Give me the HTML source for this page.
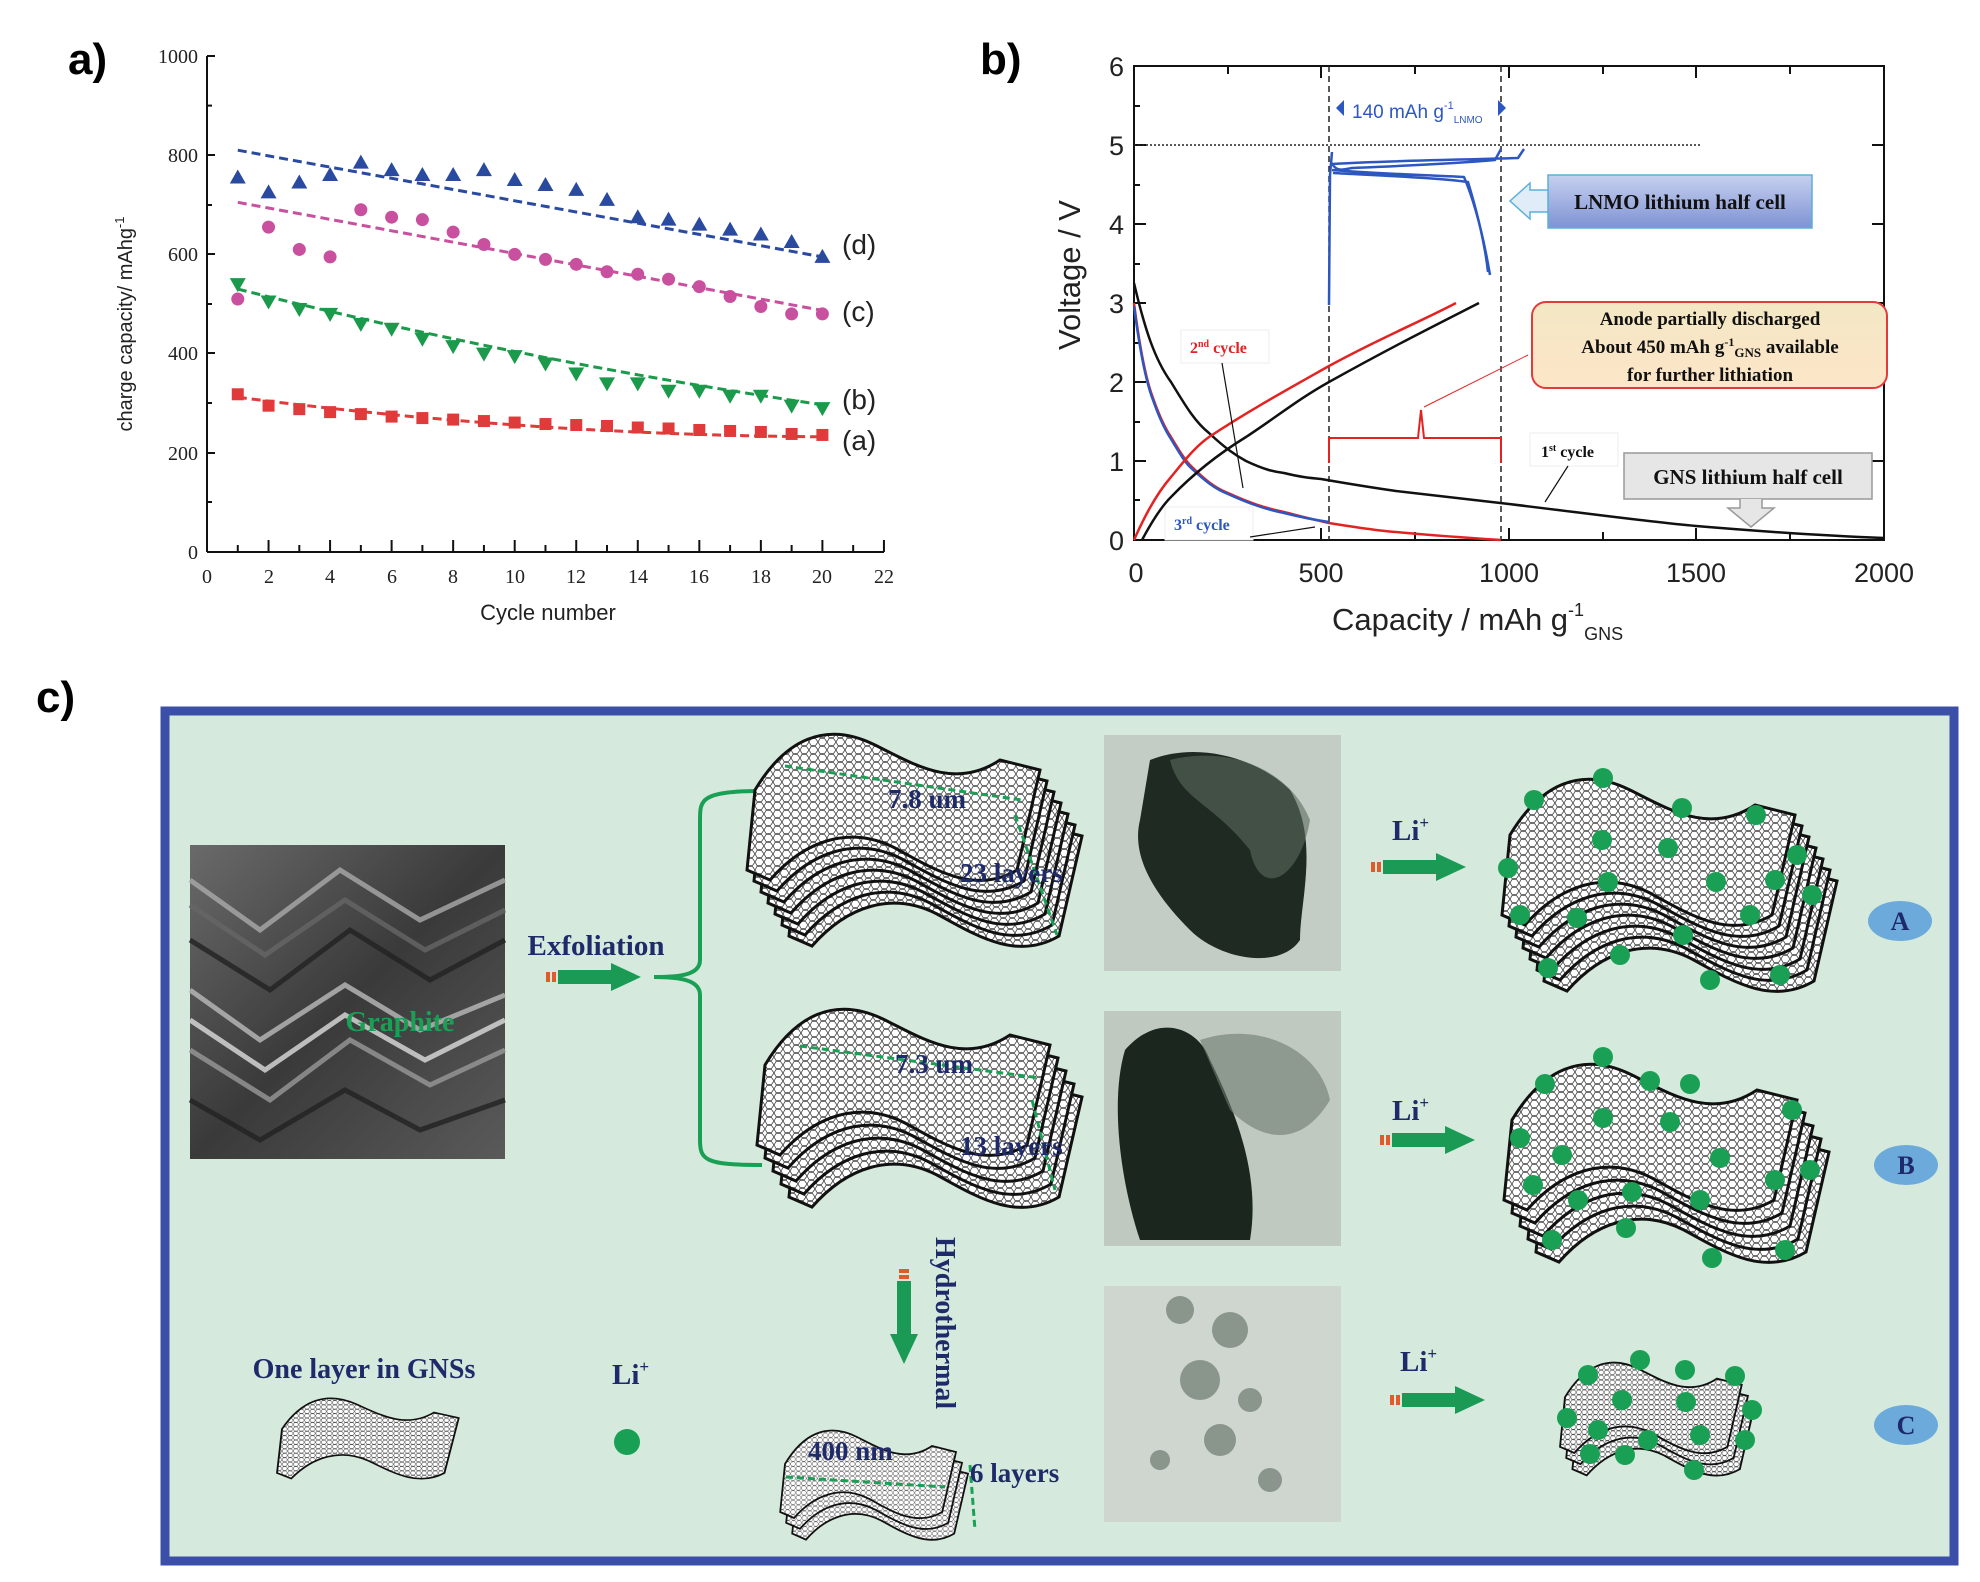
<!DOCTYPE html>
<html><head><meta charset="utf-8"><style>
html,body{margin:0;padding:0;background:#fff;}
svg{display:block}
.sf{font-family:"Liberation Serif",serif;}
.ss{font-family:"Liberation Sans",sans-serif;}
</style></head><body>
<svg width="1980" height="1582" viewBox="0 0 1980 1582" xmlns="http://www.w3.org/2000/svg">
<defs>
<pattern id="hex" width="9" height="8" patternUnits="userSpaceOnUse">
<rect width="9" height="8" fill="#fff"/>
<path d="M0,4 L2,0.5 L6.5,0.5 L9,4 L6.5,7.5 L2,7.5 Z" fill="none" stroke="#444" stroke-width="0.8"/>
</pattern>
<path id="sheet" d="M0,60 C30,10 70,-10 120,15 C160,35 200,60 245,30 L285,40 L262,140 C220,165 180,140 140,118 C95,95 50,110 15,150 L-8,140 Z" fill="url(#hex)" stroke="#111" stroke-width="3"/>
<linearGradient id="lnmo" x1="0" y1="0" x2="0" y2="1"><stop offset="0" stop-color="#c6d0ef"/><stop offset="1" stop-color="#7f93d4"/></linearGradient>
<linearGradient id="anode" x1="0" y1="0" x2="0" y2="1"><stop offset="0" stop-color="#f3e7c4"/><stop offset="1" stop-color="#fde6c8"/></linearGradient>
<linearGradient id="gr" x1="0" y1="0" x2="1" y2="1"><stop offset="0" stop-color="#6a6a6a"/><stop offset="0.5" stop-color="#3a3a3a"/><stop offset="1" stop-color="#5a5a5a"/></linearGradient>
<g id="garr"><rect x="0" y="-5" width="4" height="10" fill="#e05a2a"/><rect x="6" y="-5" width="4" height="10" fill="#e05a2a"/><rect x="12" y="-7" width="55" height="14" fill="#1a9a55"/><path d="M65,-14 L95,0 L65,14 Z" fill="#1a9a55"/></g>
</defs>

<!-- Panel a -->
<text x="68" y="74" font-family="Liberation Sans,sans-serif" font-weight="bold" font-size="44">a)</text>
<g class="sf" font-size="20" fill="#222">
<line x1="207" y1="56" x2="207" y2="552" stroke="#111" stroke-width="2"/>
<line x1="207" y1="552" x2="884" y2="552" stroke="#111" stroke-width="2"/>
<g stroke="#111" stroke-width="2">
<line x1="207" y1="56" x2="215" y2="56"/><line x1="207" y1="105.6" x2="212" y2="105.6"/><line x1="207" y1="155" x2="215" y2="155"/><line x1="207" y1="205" x2="212" y2="205"/><line x1="207" y1="254" x2="215" y2="254"/><line x1="207" y1="304" x2="212" y2="304"/><line x1="207" y1="353" x2="215" y2="353"/><line x1="207" y1="403" x2="212" y2="403"/><line x1="207" y1="453" x2="215" y2="453"/><line x1="207" y1="502" x2="212" y2="502"/>
</g>
<g text-anchor="end"><text x="198" y="63">1000</text><text x="198" y="162">800</text><text x="198" y="261">600</text><text x="198" y="360">400</text><text x="198" y="460">200</text><text x="198" y="559">0</text></g>
<g id="xt" stroke="#111" stroke-width="2"></g>
<g text-anchor="middle"><text x="207" y="583">0</text><text x="269" y="583">2</text><text x="330" y="583">4</text><text x="392" y="583">6</text><text x="453" y="583">8</text><text x="515" y="583">10</text><text x="576" y="583">12</text><text x="638" y="583">14</text><text x="699" y="583">16</text><text x="761" y="583">18</text><text x="822" y="583">20</text><text x="884" y="583">22</text></g>
</g>
<text class="ss" x="548" y="620" font-size="22" text-anchor="middle" fill="#222">Cycle number</text>
<text class="ss" font-size="20" fill="#222" text-anchor="middle" transform="translate(132,324) rotate(-90)">charge capacity/ mAhg<tspan dy="-8" font-size="13">-1</tspan></text>
<g id="pa"></g>
<g class="ss" font-size="28" fill="#222"><text x="842" y="254">(d)</text><text x="842" y="321">(c)</text><text x="842" y="409">(b)</text><text x="842" y="450">(a)</text></g>

<!-- Panel b -->
<text x="980" y="74" font-family="Liberation Sans,sans-serif" font-weight="bold" font-size="44">b)</text>
<rect x="1134" y="66" width="750" height="474" fill="none" stroke="#111" stroke-width="2"/>
<g stroke="#111" stroke-width="2">
<line x1="1228" y1="540" x2="1228" y2="532"/><line x1="1321" y1="540" x2="1321" y2="528"/><line x1="1415" y1="540" x2="1415" y2="532"/><line x1="1509" y1="540" x2="1509" y2="528"/><line x1="1603" y1="540" x2="1603" y2="532"/><line x1="1696" y1="540" x2="1696" y2="528"/><line x1="1790" y1="540" x2="1790" y2="532"/>
<line x1="1228" y1="66" x2="1228" y2="74"/><line x1="1321" y1="66" x2="1321" y2="78"/><line x1="1415" y1="66" x2="1415" y2="74"/><line x1="1509" y1="66" x2="1509" y2="78"/><line x1="1603" y1="66" x2="1603" y2="74"/><line x1="1696" y1="66" x2="1696" y2="78"/><line x1="1790" y1="66" x2="1790" y2="74"/>
<line x1="1134" y1="461" x2="1146" y2="461"/><line x1="1134" y1="382" x2="1146" y2="382"/><line x1="1134" y1="303" x2="1146" y2="303"/><line x1="1134" y1="224" x2="1146" y2="224"/><line x1="1134" y1="145" x2="1146" y2="145"/>
<line x1="1884" y1="461" x2="1872" y2="461"/><line x1="1884" y1="382" x2="1872" y2="382"/><line x1="1884" y1="303" x2="1872" y2="303"/><line x1="1884" y1="224" x2="1872" y2="224"/><line x1="1884" y1="145" x2="1872" y2="145"/>
<line x1="1134" y1="500" x2="1140" y2="500"/><line x1="1134" y1="422" x2="1140" y2="422"/><line x1="1134" y1="343" x2="1140" y2="343"/><line x1="1134" y1="264" x2="1140" y2="264"/><line x1="1134" y1="185" x2="1140" y2="185"/><line x1="1134" y1="106" x2="1140" y2="106"/>
</g>
<g class="ss" font-size="27" fill="#222" text-anchor="end"><text x="1124" y="550">0</text><text x="1124" y="471">1</text><text x="1124" y="392">2</text><text x="1124" y="313">3</text><text x="1124" y="234">4</text><text x="1124" y="155">5</text><text x="1124" y="76">6</text></g>
<g class="ss" font-size="27" fill="#222" text-anchor="middle"><text x="1136" y="582">0</text><text x="1321" y="582">500</text><text x="1509" y="582">1000</text><text x="1696" y="582">1500</text><text x="1884" y="582">2000</text></g>
<text class="ss" x="1332" y="630" font-size="31" fill="#222">Capacity / mAh g<tspan dy="-14" font-size="18">-1</tspan><tspan dy="24" font-size="18">GNS</tspan></text>
<text class="ss" font-size="31" fill="#222" text-anchor="middle" transform="translate(1080,275) rotate(-90)">Voltage / V</text>
<line x1="1134" y1="145" x2="1700" y2="145" stroke="#222" stroke-width="1.5" stroke-dasharray="2,2"/>
<line x1="1329" y1="66" x2="1329" y2="540" stroke="#222" stroke-width="1.5" stroke-dasharray="6,4"/>
<line x1="1501" y1="66" x2="1501" y2="540" stroke="#222" stroke-width="1.5" stroke-dasharray="6,4"/>
<path d="M1336,108 L1344,100 L1344,116 Z M1506,108 L1498,100 L1498,116 Z" fill="#2d57c0"/>
<text class="ss" x="1352" y="118" font-size="19" fill="#2d57c0">140 mAh g<tspan dy="-9" font-size="11">-1</tspan><tspan dy="14" font-size="10">LNMO</tspan></text>
<g fill="none" stroke-width="2.5" stroke-linejoin="round">
<path d="M1134,283 C1145,330 1155,360 1171,382 C1185,405 1195,422 1209,433 C1225,448 1235,455 1246,461 C1265,470 1275,472 1284,473 C1300,477 1310,478 1321,479 C1350,484 1375,488 1396,491 C1450,497 1480,501 1509,504 C1600,515 1650,522 1696,526 C1780,533 1830,536 1884,538" stroke="#111"/>
<path d="M1134,303 C1140,350 1146,380 1153,398 C1160,418 1165,428 1171,437 C1180,452 1185,460 1190,465 C1205,480 1215,488 1228,493 C1250,503 1265,508 1284,512 C1300,516 1315,520 1329,523 C1360,528 1380,531 1396,532 C1440,536 1470,538 1501,540" stroke="#e52222"/>
<path d="M1134,306 C1140,352 1146,382 1153,400 C1160,420 1165,430 1171,439 C1180,454 1185,462 1190,467 C1205,481 1215,489 1228,494 C1250,504 1265,509 1284,513 C1300,517 1315,520 1329,522" stroke="#2d57c0"/>
<path d="M1134,540 C1145,515 1158,492 1171,477 C1185,460 1195,447 1209,437 C1250,410 1290,388 1329,366 C1380,338 1420,322 1456,303" stroke="#e52222"/>
<path d="M1142,540 C1150,525 1160,508 1171,497 C1195,472 1220,453 1246,437 C1275,418 1300,398 1329,382 C1390,348 1430,328 1479,303" stroke="#111"/>
<path d="M1329,305 L1330,175 L1332,152 M1331,162 C1336,172 1342,170 1352,168 C1400,166 1450,164 1495,160 L1501,149 M1333,164 C1380,161 1450,160 1518,158 L1524,149 M1332,170 C1380,174 1430,175 1464,177 C1476,205 1484,240 1490,275 M1333,173 C1390,176 1440,178 1468,182 C1478,215 1485,245 1488,272" stroke="#2d57c0"/>
</g>
<rect x="1548" y="175" width="264" height="53" fill="url(#lnmo)" stroke="#5bb0d8" stroke-width="1.5"/>
<path d="M1548,190 L1530,190 L1530,183 L1510,201 L1530,219 L1530,212 L1548,212 Z" fill="#e0ecf8" stroke="#5bb0d8" stroke-width="1.5"/>
<text class="sf" x="1680" y="209" font-size="21" font-weight="bold" text-anchor="middle" fill="#111">LNMO lithium half cell</text>
<rect x="1532" y="302" width="355" height="86" rx="14" fill="url(#anode)" stroke="#e53a3a" stroke-width="2"/>
<g class="sf" font-size="19" font-weight="bold" text-anchor="middle" fill="#111"><text x="1710" y="325">Anode partially discharged</text><text x="1710" y="353">About 450 mAh g<tspan dy="-7" font-size="12">-1</tspan><tspan dy="11" font-size="13">GNS</tspan><tspan dy="-4"> available</tspan></text><text x="1710" y="381">for further lithiation</text></g>
<line x1="1528" y1="355" x2="1424" y2="407" stroke="#e52222" stroke-width="1"/>
<path d="M1329,463 L1329,438 L1418,438 L1421,410 L1424,438 L1501,438 L1501,463" fill="none" stroke="#e52222" stroke-width="2"/>
<rect x="1624" y="453" width="248" height="46" fill="#e6e6e6" stroke="#999" stroke-width="1.5"/>
<path d="M1740,499 L1740,508 L1728,508 L1751,527 L1774,508 L1762,508 L1762,499" fill="#e6e6e6" stroke="#999" stroke-width="1.5"/>
<text class="sf" x="1748" y="484" font-size="21" font-weight="bold" text-anchor="middle" fill="#111">GNS lithium half cell</text>
<rect x="1530" y="433" width="88" height="33" fill="#fff" stroke="#eee"/>
<text class="sf" x="1541" y="457" font-size="16" font-weight="bold" fill="#111">1<tspan dy="-6" font-size="10">st</tspan><tspan dy="6"> cycle</tspan></text>
<line x1="1568" y1="466" x2="1545" y2="502" stroke="#111" stroke-width="1.2"/>
<rect x="1181" y="330" width="88" height="33" fill="#fff" stroke="#eee"/>
<text class="sf" x="1190" y="353" font-size="16" font-weight="bold" fill="#e52222">2<tspan dy="-6" font-size="10">nd</tspan><tspan dy="6"> cycle</tspan></text>
<line x1="1222" y1="363" x2="1243" y2="488" stroke="#111" stroke-width="1.2"/>
<rect x="1165" y="507" width="88" height="33" fill="#fff" stroke="#eee"/>
<text class="sf" x="1174" y="530" font-size="16" font-weight="bold" fill="#2d57c0">3<tspan dy="-6" font-size="10">rd</tspan><tspan dy="6"> cycle</tspan></text>
<line x1="1250" y1="537" x2="1315" y2="527" stroke="#111" stroke-width="1.2"/>

<!-- Panel c -->
<text x="36" y="712" font-family="Liberation Sans,sans-serif" font-weight="bold" font-size="44">c)</text>
<rect x="165" y="711" width="1789" height="850" fill="#d5eadc" stroke="#3b4fa8" stroke-width="9"/>
<rect x="190" y="845" width="315" height="314" fill="url(#gr)"/>
<g fill="none" stroke-width="5" opacity="0.8">
<path d="M190,880 L260,930 L340,870 L420,920 L505,880" stroke="#aaa"/>
<path d="M190,940 L270,990 L350,930 L430,980 L505,940" stroke="#222"/>
<path d="M190,990 L260,1040 L345,985 L420,1030 L505,995" stroke="#bbb"/>
<path d="M190,1050 L270,1100 L350,1040 L430,1085 L505,1050" stroke="#999"/>
<path d="M190,1100 L260,1140 L345,1090 L420,1130 L505,1100" stroke="#222"/>
<path d="M190,905 L265,955 L345,900 L425,950 L505,910" stroke="#666"/>
<path d="M190,1020 L265,1070 L345,1015 L425,1060 L505,1020" stroke="#ddd"/>
</g>
<text class="sf" x="400" y="1031" font-size="28" font-weight="bold" fill="#1aa055" text-anchor="middle">Graphite</text>
<text class="sf" x="596" y="955" font-size="29" font-weight="bold" fill="#1e2a6a" text-anchor="middle">Exfoliation</text>
<use href="#garr" x="546" y="977"/>
<path d="M762,791 C700,791 700,800 700,820 L700,960 C700,975 680,977 654,977 C680,977 700,980 700,995 L700,1140 C700,1160 705,1165 762,1165" fill="none" stroke="#1aa055" stroke-width="4"/>
<g transform="translate(755,730)"><use href="#sheet" x="42" y="66"/><use href="#sheet" x="35" y="55"/><use href="#sheet" x="28" y="44"/><use href="#sheet" x="21" y="33"/><use href="#sheet" x="14" y="22"/><use href="#sheet" x="7" y="11"/><use href="#sheet" x="0" y="0"/></g>
<g transform="translate(765,1005)"><use href="#sheet" x="32" y="52"/><use href="#sheet" x="24" y="39"/><use href="#sheet" x="16" y="26"/><use href="#sheet" x="8" y="13"/><use href="#sheet" x="0" y="0"/></g>
<g transform="translate(785,1428) scale(0.6)"><use href="#sheet" x="20" y="36"/><use href="#sheet" x="10" y="18"/><use href="#sheet" x="0" y="0"/></g>
<g stroke="#1aa055" stroke-width="3" stroke-dasharray="7,4" fill="none">
<line x1="785" y1="766" x2="1022" y2="800"/><line x1="1015" y1="815" x2="1057" y2="935"/>
<line x1="800" y1="1046" x2="1040" y2="1078"/><line x1="1032" y1="1100" x2="1055" y2="1190"/>
<line x1="786" y1="1477" x2="945" y2="1487"/><line x1="970" y1="1465" x2="975" y2="1530"/>
</g>
<g class="sf" font-size="27" font-weight="bold" fill="#1e2a6a">
<text x="888" y="808">7.8 um</text><text x="960" y="882">23 layers</text>
<text x="895" y="1073">7.3 um</text><text x="960" y="1155">13 layers</text>
<text x="808" y="1460">400 nm</text><text x="970" y="1482">6 layers</text>
</g>
<rect x="1104" y="735" width="237" height="236" fill="#c4cdc5"/>
<path d="M1150,760 C1200,740 1260,760 1290,790 C1320,840 1300,900 1300,940 C1280,970 1220,960 1190,930 C1160,900 1130,860 1140,820 Z" fill="#1e2a22"/>
<path d="M1170,760 C1230,745 1290,770 1310,820 C1300,880 1260,900 1250,850 C1210,800 1180,800 1170,760Z" fill="#5a6a5e" opacity="0.6"/>
<rect x="1104" y="1011" width="237" height="235" fill="#bfc9c0"/>
<path d="M1125,1050 C1160,1010 1200,1030 1210,1060 C1240,1120 1260,1180 1250,1240 L1140,1240 C1120,1180 1110,1100 1125,1050Z" fill="#1a261e"/>
<path d="M1200,1040 C1260,1020 1320,1050 1330,1100 C1300,1150 1260,1140 1230,1110Z" fill="#6e7c70" opacity="0.6"/>
<rect x="1104" y="1286" width="237" height="236" fill="#cfd6d0"/>
<g fill="#7a857c" opacity="0.8"><circle cx="1180" cy="1310" r="14"/><circle cx="1230" cy="1330" r="18"/><circle cx="1200" cy="1380" r="20"/><circle cx="1250" cy="1400" r="12"/><circle cx="1220" cy="1440" r="16"/><circle cx="1270" cy="1480" r="12"/><circle cx="1160" cy="1460" r="10"/></g>
<g class="sf" font-size="29" font-weight="bold" fill="#1e2a6a">
<text x="1392" y="840">Li<tspan dy="-12" font-size="17">+</tspan></text>
<text x="1392" y="1120">Li<tspan dy="-12" font-size="17">+</tspan></text>
<text x="1400" y="1371">Li<tspan dy="-12" font-size="17">+</tspan></text>
</g>
<use href="#garr" x="1371" y="867"/><use href="#garr" x="1380" y="1140"/><use href="#garr" x="1390" y="1400"/>
<g transform="translate(1510,775)"><use href="#sheet" x="42" y="66"/><use href="#sheet" x="35" y="55"/><use href="#sheet" x="28" y="44"/><use href="#sheet" x="21" y="33"/><use href="#sheet" x="14" y="22"/><use href="#sheet" x="7" y="11"/><use href="#sheet" x="0" y="0"/></g>
<g transform="translate(1512,1060)"><use href="#sheet" x="32" y="52"/><use href="#sheet" x="24" y="39"/><use href="#sheet" x="16" y="26"/><use href="#sheet" x="8" y="13"/><use href="#sheet" x="0" y="0"/></g>
<g transform="translate(1565,1360) scale(0.62)"><use href="#sheet" x="20" y="36"/><use href="#sheet" x="10" y="18"/><use href="#sheet" x="0" y="0"/></g>
<g fill="#1aa055">
<circle cx="1534" cy="800" r="10"/><circle cx="1603" cy="778" r="10"/><circle cx="1682" cy="808" r="10"/><circle cx="1756" cy="815" r="10"/><circle cx="1602" cy="840" r="10"/><circle cx="1668" cy="848" r="10"/><circle cx="1508" cy="868" r="10"/><circle cx="1608" cy="882" r="10"/><circle cx="1716" cy="882" r="10"/><circle cx="1797" cy="855" r="10"/><circle cx="1520" cy="915" r="10"/><circle cx="1577" cy="918" r="10"/><circle cx="1683" cy="935" r="10"/><circle cx="1750" cy="915" r="10"/><circle cx="1812" cy="895" r="10"/><circle cx="1548" cy="968" r="10"/><circle cx="1620" cy="955" r="10"/><circle cx="1710" cy="980" r="10"/><circle cx="1780" cy="975" r="10"/><circle cx="1775" cy="880" r="10"/>
<circle cx="1545" cy="1084" r="10"/><circle cx="1603" cy="1057" r="10"/><circle cx="1650" cy="1081" r="10"/><circle cx="1690" cy="1084" r="10"/><circle cx="1792" cy="1110" r="10"/><circle cx="1603" cy="1118" r="10"/><circle cx="1670" cy="1122" r="10"/><circle cx="1520" cy="1138" r="10"/><circle cx="1562" cy="1155" r="10"/><circle cx="1720" cy="1158" r="10"/><circle cx="1533" cy="1185" r="10"/><circle cx="1578" cy="1200" r="10"/><circle cx="1632" cy="1192" r="10"/><circle cx="1700" cy="1200" r="10"/><circle cx="1775" cy="1180" r="10"/><circle cx="1810" cy="1170" r="10"/><circle cx="1552" cy="1240" r="10"/><circle cx="1626" cy="1228" r="10"/><circle cx="1712" cy="1258" r="10"/><circle cx="1785" cy="1250" r="10"/>
<circle cx="1588" cy="1375" r="10"/><circle cx="1640" cy="1360" r="10"/><circle cx="1685" cy="1370" r="10"/><circle cx="1735" cy="1376" r="10"/><circle cx="1622" cy="1400" r="10"/><circle cx="1686" cy="1402" r="10"/><circle cx="1752" cy="1410" r="10"/><circle cx="1567" cy="1418" r="10"/><circle cx="1598" cy="1430" r="10"/><circle cx="1648" cy="1440" r="10"/><circle cx="1700" cy="1435" r="10"/><circle cx="1745" cy="1440" r="10"/><circle cx="1590" cy="1454" r="10"/><circle cx="1625" cy="1455" r="10"/><circle cx="1694" cy="1470" r="10"/>
</g>
<g class="sf" font-size="26" font-weight="bold" fill="#1e2a6a" text-anchor="middle">
<ellipse cx="1900" cy="921" rx="32" ry="20" fill="#6baadb"/><text x="1900" y="930">A</text>
<ellipse cx="1906" cy="1165" rx="32" ry="20" fill="#6baadb"/><text x="1906" y="1174">B</text>
<ellipse cx="1906" cy="1425" rx="32" ry="20" fill="#6baadb"/><text x="1906" y="1434">C</text>
</g>
<text class="sf" x="364" y="1378" font-size="28" font-weight="bold" fill="#1e2a6a" text-anchor="middle">One layer in GNSs</text>
<text class="sf" x="612" y="1384" font-size="29" font-weight="bold" fill="#1e2a6a">Li<tspan dy="-12" font-size="17">+</tspan></text>
<circle cx="627" cy="1442" r="13" fill="#1aa055"/>
<g transform="translate(282,1396) scale(0.62,0.55)"><use href="#sheet" x="0" y="0"/></g>
<text class="sf" font-size="28" font-weight="bold" fill="#1e2a6a" transform="translate(936,1237) rotate(90)">Hydrothermal</text>
<g transform="translate(904,1269) rotate(90)"><use href="#garr" x="0" y="0"/></g>
</svg>
<script>
(function(){
var NS="http://www.w3.org/2000/svg";
function X(c){return 207+30.77*c;} function Y(v){return 552-v*0.496;}
var g=document.getElementById("pa"), xt=document.getElementById("xt");
for(var i=1;i<=22;i++){var l=document.createElementNS(NS,"line");l.setAttribute("x1",X(i));l.setAttribute("x2",X(i));l.setAttribute("y1",552);l.setAttribute("y2",i%2==0?540:545);xt.appendChild(l);}
var D={d:[755,725,745,760,785,770,760,760,770,750,740,730,710,675,670,660,650,640,625,595],
c:[510,655,610,595,690,675,670,645,620,600,590,580,565,560,550,535,515,495,480,480],
b:[540,505,490,480,460,450,430,415,400,395,380,360,340,340,325,325,315,315,295,290],
a:[318,295,288,282,278,273,270,267,264,261,258,256,254,251,249,246,244,242,238,236]};
var col={d:"#2a4aa0",c:"#c8509e",b:"#1a9a4a",a:"#e03a3a"};
var fit={d:function(c){return 810-(c-1)*215/19;},c:function(c){return 705-(c-1)*218/19;},
b:function(c){return 530-(c-1)*15.5+(c-1)*(c-1)*0.17;},a:function(c){return 312-(c-1)*8+(c-1)*(c-1)*0.2;}};
["a","b","c","d"].forEach(function(k){
var p="";for(var c=1;c<=20;c+=0.5){p+=(c==1?"M":"L")+X(c).toFixed(1)+","+Y(fit[k](c)).toFixed(1);}
var pa=document.createElementNS(NS,"path");pa.setAttribute("d",p);pa.setAttribute("fill","none");pa.setAttribute("stroke",col[k]);pa.setAttribute("stroke-width","3");pa.setAttribute("stroke-dasharray","9,5");g.appendChild(pa);
D[k].forEach(function(v,i){var x=X(i+1),y=Y(v),e;
if(k=="d"){e=document.createElementNS(NS,"path");e.setAttribute("d","M"+x+","+(y-8)+" L"+(x+8)+","+(y+6)+" L"+(x-8)+","+(y+6)+"Z");}
else if(k=="b"){e=document.createElementNS(NS,"path");e.setAttribute("d","M"+x+","+(y+8)+" L"+(x+8)+","+(y-6)+" L"+(x-8)+","+(y-6)+"Z");}
else if(k=="c"){e=document.createElementNS(NS,"circle");e.setAttribute("cx",x);e.setAttribute("cy",y);e.setAttribute("r",6.5);}
else{e=document.createElementNS(NS,"rect");e.setAttribute("x",x-6);e.setAttribute("y",y-6);e.setAttribute("width",12);e.setAttribute("height",12);}
e.setAttribute("fill",col[k]);g.appendChild(e);});
});
})();
</script>
</body></html>
